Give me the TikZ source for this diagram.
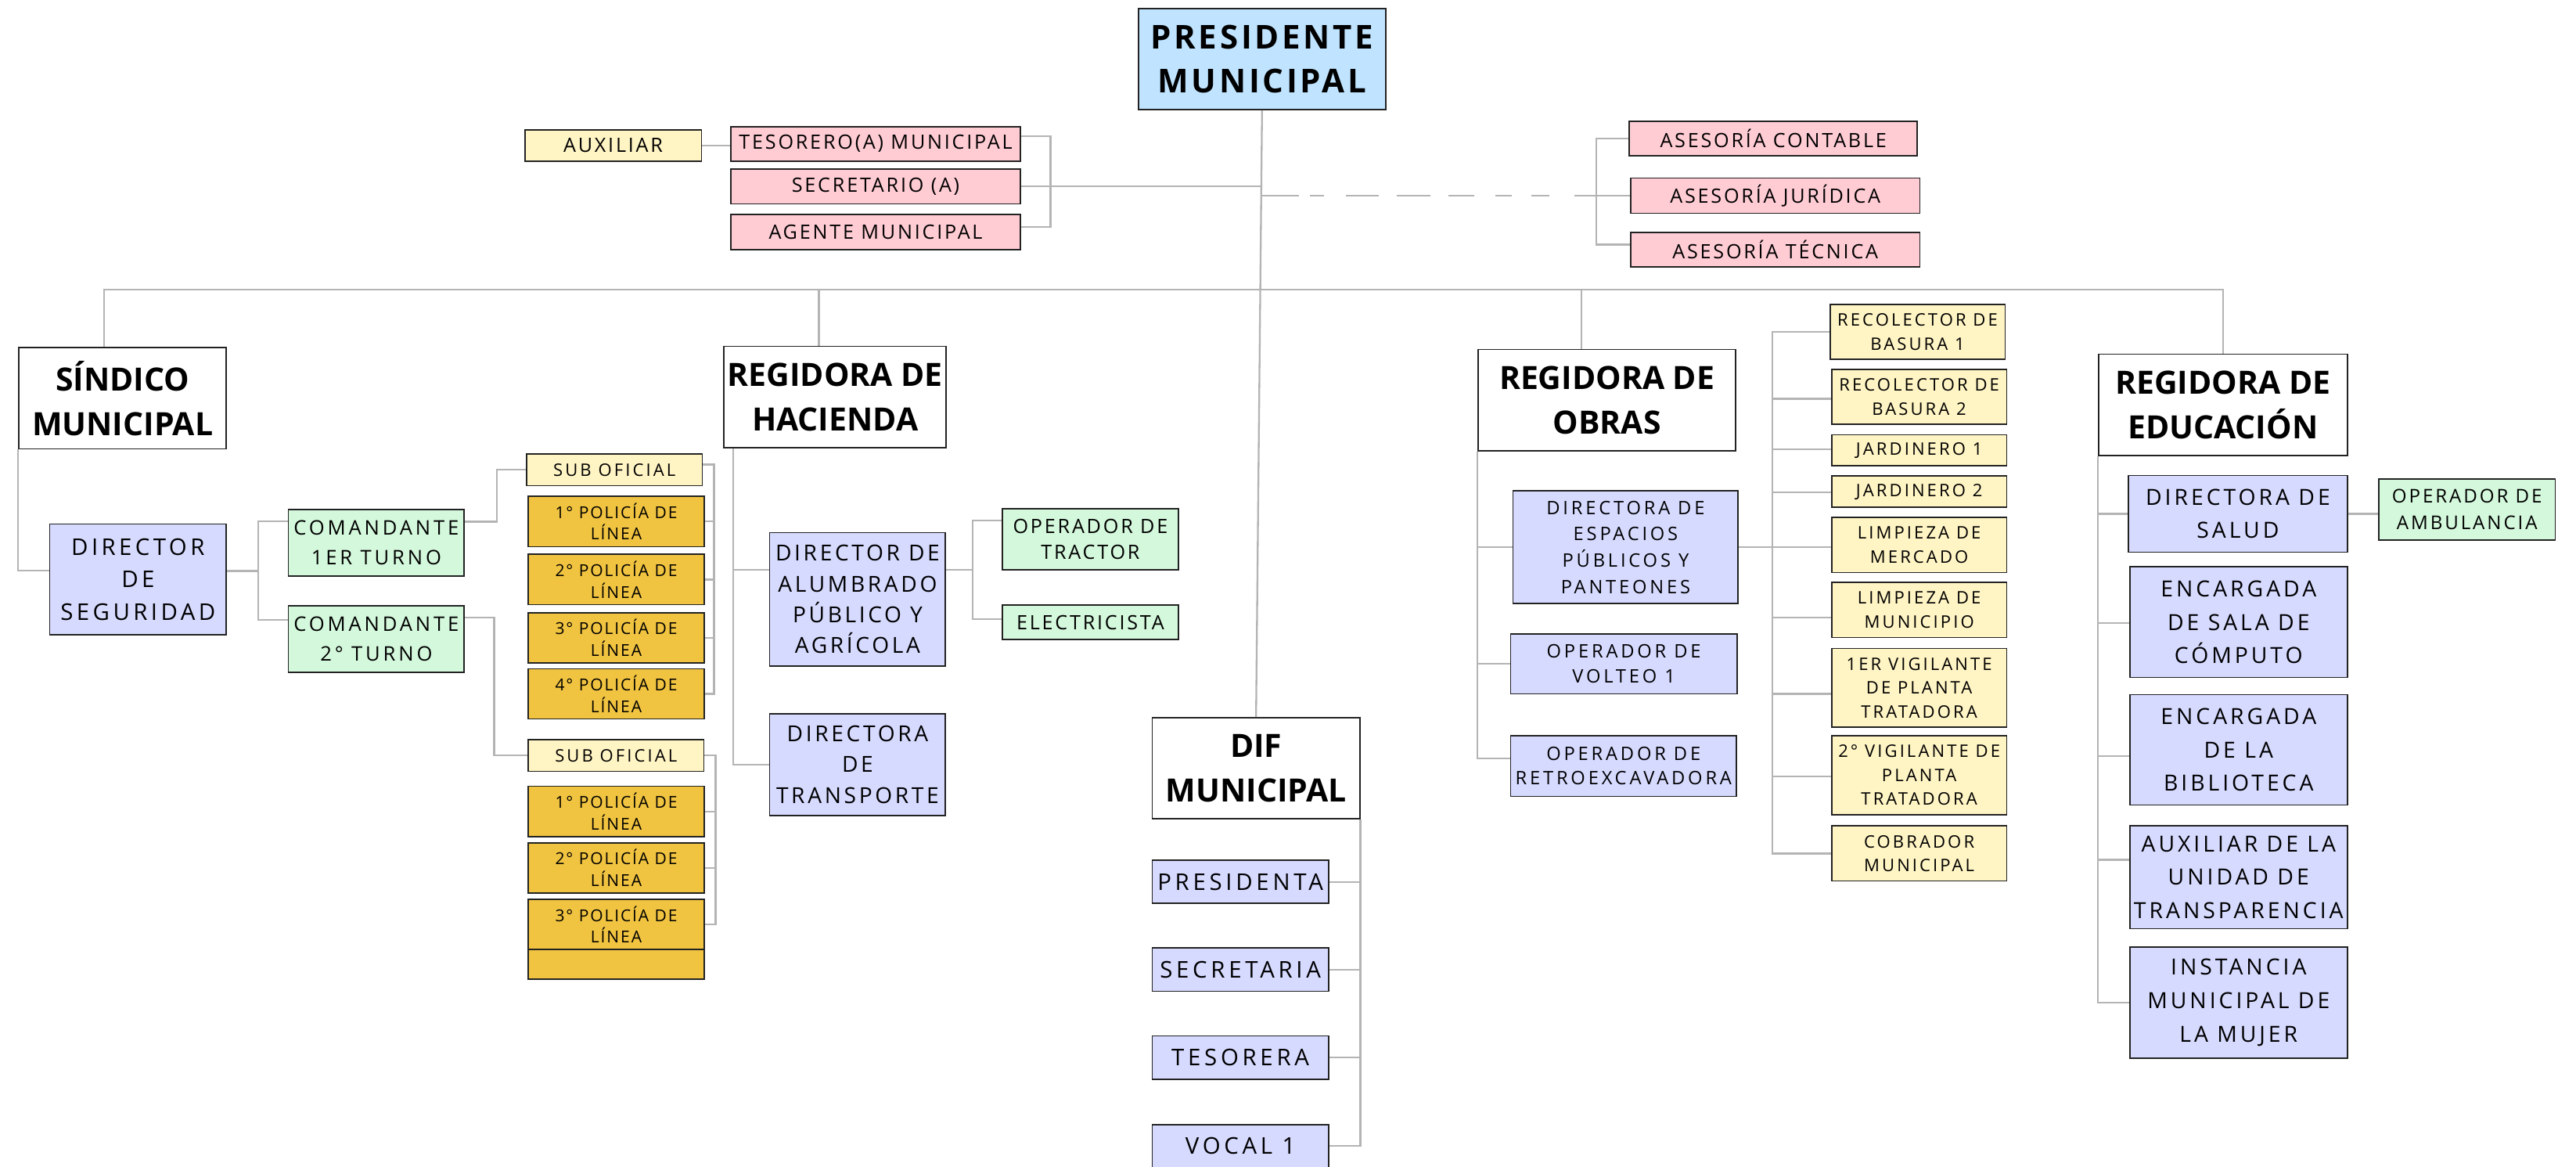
\documentclass[tikz,border=0pt]{standalone}
\usepackage{fontspec}
\usetikzlibrary{calc}
\setmainfont{Open Sans}
\newfontfamily\titlefont{Open Sans}
\definecolor{pblue}{HTML}{C0E4FF}
\definecolor{ppink}{HTML}{FFCCD4}
\definecolor{pyel}{HTML}{FFF4C4}
\definecolor{plav}{HTML}{D6DAFF}
\definecolor{pgreen}{HTML}{D4F8DC}
\definecolor{pgold}{HTML}{F0C340}
\definecolor{lncol}{HTML}{B4B4B4}
\definecolor{bdr}{HTML}{222222}
\newcommand\ttl{\titlefont\bfseries\fontsize{19.5}{27}\selectfont}
\newcommand\fsz[3]{\fontsize{#1}{#2}\selectfont\addfontfeatures{LetterSpace=#3}}
\tikzset{
  box/.style={draw=bdr, line width=0.8pt, align=center, inner sep=0pt},
  tbox/.style={box, fill=white, font=\ttl},
  pinkbox/.style={box, fill=ppink, font={\fsz{12}{14}{11}}},
  segbox/.style={box, fill=plav, font={\fsz{14}{19.8}{15}}},
  cmdbox/.style={box, fill=pgreen, font={\fsz{12.2}{17.8}{15}}},
  subbox/.style={box, fill=pyel, font={\fsz{10.5}{13}{14}}},
  polbox/.style={box, fill=pgold, font={\fsz{10}{13.2}{9}}},
  alumbox/.style={box, fill=plav, font={\fsz{13.4}{18.7}{13}}},
  grnbox/.style={box, fill=pgreen, font={\fsz{12}{16}{11}}},
  difbox/.style={box, fill=plav, font={\fsz{14}{18}{16}}},
  obrbox/.style={box, fill=plav, font={\fsz{11.3}{16}{16}}},
  yelbox/.style={box, fill=pyel, font={\fsz{10.5}{14.5}{14}}},
  edubox/.style={box, fill=plav, font={\fsz{13.5}{20.3}{14}}},
  ambbox/.style={box, fill=pgreen, font={\fsz{11.5}{16.1}{12}}},
  conn/.style={draw=lncol, line width=1.1pt},
}
\begin{document}
\begin{tikzpicture}[x=1pt,y=-1pt]
\useasboundingbox[fill=white] (0,0) rectangle (1568,709.7);

% ---------- top ----------
\node[tbox, fill=pblue, minimum width=150.5, minimum height=61.5, font={\titlefont\bfseries\fontsize{20}{27}\selectfont\addfontfeatures{LetterSpace=9}}] (pres) at (768.2,36) {PRESIDENTE\\MUNICIPAL};
\node[subbox, font={\fsz{12}{14}{11}}, minimum width=107.5, minimum height=19] (aux) at (373.2,88.5) {AUXILIAR};
\node[pinkbox, minimum width=176, minimum height=21] (tes) at (533,87.5) {TESORERO(A) MUNICIPAL};
\node[pinkbox, minimum width=176, minimum height=21] (sec) at (533,113.5) {SECRETARIO (A)};
\node[pinkbox, minimum width=176, minimum height=21.4] (age) at (533,141.3) {AGENTE MUNICIPAL};
\node[pinkbox, minimum width=175.3, minimum height=21] (asc) at (1079.4,84.3) {ASESORÍA CONTABLE};
\node[pinkbox, minimum width=176, minimum height=21.5] (asj) at (1080.6,119.1) {ASESORÍA JURÍDICA};
\node[pinkbox, minimum width=176, minimum height=21] (ast) at (1080.6,151.9) {ASESORÍA TÉCNICA};

% ---------- heads ----------
\node[tbox, minimum width=126.2, minimum height=61.6] (sind) at (74.6,242.4) {SÍNDICO\\MUNICIPAL};
\node[tbox, minimum width=135.4, minimum height=61.7] (hac) at (508.3,241.65) {REGIDORA DE\\HACIENDA};
\node[tbox, minimum width=156.7, minimum height=61.7] (obr) at (978.15,243.45) {REGIDORA DE\\OBRAS};
\node[tbox, minimum width=151.5, minimum height=61.7] (edu) at (1353.05,246.35) {REGIDORA DE\\EDUCACIÓN};
\node[tbox, minimum width=126.3, minimum height=61.4] (dif) at (764.55,467.5) {DIF\\MUNICIPAL};

% ---------- sindico ----------
\node[segbox, minimum width=107.4, minimum height=67.5] (dseg) at (84,352.6) {DIRECTOR\\DE\\SEGURIDAD};
\node[cmdbox, minimum width=107.1, minimum height=40.6] (cmd1) at (229.05,330.3) {COMANDANTE\\1ER TURNO};
\node[cmdbox, minimum width=107.1, minimum height=40.3] (cmd2) at (229.05,388.85) {COMANDANTE\\2° TURNO};
\node[subbox, minimum width=107.1, minimum height=19.2] (sub1) at (374,285.9) {SUB OFICIAL};
\node[polbox, minimum width=107.2, minimum height=30.8] (p11) at (375.1,317.3) {1° POLICÍA DE\\LÍNEA};
\node[polbox, minimum width=107.2, minimum height=30.7] (p12) at (375.1,352.65) {2° POLICÍA DE\\LÍNEA};
\node[polbox, minimum width=107.2, minimum height=30.7] (p13) at (375.1,388.15) {3° POLICÍA DE\\LÍNEA};
\node[polbox, minimum width=107.2, minimum height=30.5] (p14) at (375.1,422.25) {4° POLICÍA DE\\LÍNEA};
\node[subbox, minimum width=107, minimum height=19.4] (sub2) at (375,459.7) {SUB OFICIAL};
\node[polbox, minimum width=107.2, minimum height=30.7] (p21) at (375.1,493.85) {1° POLICÍA DE\\LÍNEA};
\node[polbox, minimum width=107.2, minimum height=30.5] (p22) at (375.1,528.25) {2° POLICÍA DE\\LÍNEA};
\node[polbox, minimum width=107.2, minimum height=30.4] (p23) at (375.1,562.6) {3° POLICÍA DE\\LÍNEA};
\node[polbox, minimum width=107.2, minimum height=17.9] (pemp) at (375.1,586.75) {};

% ---------- hacienda ----------
\node[alumbox, minimum width=107, minimum height=81.2] (alum) at (522,364.7) {DIRECTOR DE\\ALUMBRADO\\PÚBLICO Y\\AGRÍCOLA};
\node[alumbox, minimum width=107, minimum height=62] (trans) at (522,465.3) {DIRECTORA\\DE\\TRANSPORTE};
\node[grnbox, minimum width=107.2, minimum height=37.4] (trac) at (663.7,328.2) {OPERADOR DE\\TRACTOR};
\node[grnbox, minimum width=107.2, minimum height=21] (elec) at (663.7,378.7) {ELECTRICISTA};

% ---------- dif ----------
\node[difbox, minimum width=107.2, minimum height=26.3] (pta) at (755,536.65) {PRESIDENTA};
\node[difbox, minimum width=107.2, minimum height=26.4] (sria) at (755,590) {SECRETARIA};
\node[difbox, minimum width=107.2, minimum height=26.3] (tsra) at (755,643.55) {TESORERA};
\node[difbox, minimum width=107.2, minimum height=26.3] (voc) at (755,697.45) {VOCAL 1};

% ---------- obras ----------
\node[obrbox, minimum width=137, minimum height=68.6] (esp) at (989.5,333) {DIRECTORA DE\\ESPACIOS\\PÚBLICOS Y\\PANTEONES};
\node[obrbox, minimum width=137.8, minimum height=36.4, font={\fsz{11.3}{15}{16}}] (vol) at (988.4,404) {OPERADOR DE\\VOLTEO 1};
\node[obrbox, minimum width=137.5, minimum height=36.9, font={\fsz{11.3}{15}{16}}] (ret) at (988.25,466.15) {OPERADOR DE\\RETROEXCAVADORA};
\node[yelbox, minimum width=106.5, minimum height=33.4] (rec1) at (1167.2,201.9) {RECOLECTOR DE\\BASURA 1};
\node[yelbox, minimum width=106.5, minimum height=33.4] (rec2) at (1168.2,241.6) {RECOLECTOR DE\\BASURA 2};
\node[yelbox, minimum width=106.5, minimum height=18.9] (jar1) at (1168.2,274.05) {JARDINERO 1};
\node[yelbox, minimum width=106.5, minimum height=19] (jar2) at (1168.2,299.2) {JARDINERO 2};
\node[yelbox, minimum width=106.5, minimum height=33.5] (lmer) at (1168.2,331.65) {LIMPIEZA DE\\MERCADO};
\node[yelbox, minimum width=106.5, minimum height=33.5] (lmun) at (1168.2,371.15) {LIMPIEZA DE\\MUNICIPIO};
\node[yelbox, minimum width=106.5, minimum height=48] (vig1) at (1168.2,418.6) {1ER VIGILANTE\\DE PLANTA\\TRATADORA};
\node[yelbox, minimum width=106.5, minimum height=48] (vig2) at (1168.2,471.7) {2° VIGILANTE DE\\PLANTA\\TRATADORA};
\node[yelbox, minimum width=106.5, minimum height=33.5] (cob) at (1168.2,519.35) {COBRADOR\\MUNICIPAL};

% ---------- educacion ----------
\node[edubox, minimum width=133.2, minimum height=46.8] (sal) at (1362.2,312.7) {DIRECTORA DE\\SALUD};
\node[edubox, minimum width=132.4, minimum height=67.4] (sala) at (1362.6,378.6) {ENCARGADA\\DE SALA DE\\CÓMPUTO};
\node[edubox, minimum width=132.4, minimum height=67.1] (bib) at (1362.6,456.25) {ENCARGADA\\DE LA\\BIBLIOTECA};
\node[edubox, minimum width=132.4, minimum height=62.5] (trp) at (1362.6,533.85) {AUXILIAR DE LA\\UNIDAD DE\\TRANSPARENCIA};
\node[edubox, minimum width=132.4, minimum height=67.5] (muj) at (1362.6,610.05) {INSTANCIA\\MUNICIPAL DE\\LA MUJER};
\node[ambbox, minimum width=107.3, minimum height=37] (amb) at (1501.65,310) {OPERADOR DE\\AMBULANCIA};

% ================= connectors =================
% president
\draw[conn] (pres.south) -- (dif.north);
\coordinate (busy) at ($(pres.south)+(0,109)$);
\coordinate (d1) at ($(sind.north)+(-11.1,0)$);
\coordinate (d2) at ($(hac.north)+(-9.8,0)$);
\coordinate (d3) at ($(obr.north)+(-15.45,0)$);
\coordinate (d4) at (edu.north);
\draw[conn] (d1) -- (d1 |- busy) -- (d4 |- busy) -- (d4);
\draw[conn] (d2) -- (d2 |- busy);
\draw[conn] (d3) -- (d3 |- busy);

% top left group
\draw[conn] (aux.east) -- (aux.east -| tes.west);
\coordinate (tb) at ($(tes.east)+(18,0)$);
\draw[conn] ($(tes.east)+(0,-4.5)$) -- ($(tb |- tes.east)+(0,-4.5)$) -- ($(tb |- age.east)+(0,-3.3)$) -- ($(age.east)+(0,-3.3)$);
\draw[conn] (sec.east) -- (pres.south |- sec.east);

% asesorias
\coordinate (ab) at ($(asc.west)+(-19.7,0)$);
\draw[conn] (asc.west) -- (ab) -- ($(ab |- ast.west)+(0,-3)$) -- ($(ast.west)+(0,-3)$);
\draw[conn] (ab |- asj.west) -- (asj.west);
\draw[conn, dash pattern=on 22.6pt off 6.5pt on 8.6pt off 13.5pt on 19.8pt off 10.8pt on 20.6pt off 10.8pt on 15.9pt off 12.7pt on 10.2pt off 11.9pt on 11.1pt off 15.2pt on 60pt off 0pt] (pres.south |- asj.west) -- (ab |- asj.west);

% sindico
\draw[conn] (sind.south west) -- ($(sind.south west |- dseg.west)+(0,-5.4)$) -- ($(dseg.west)+(0,-5.4)$);
\coordinate (sb) at ($(dseg.east)+(19,0)$);
\draw[conn] ($(dseg.east)+(0,-5.1)$) -- ($(sb |- dseg.east)+(0,-5.1)$);
\draw[conn] ($(cmd1.west)+(0,-13.1)$) -- ($(sb |- cmd1.west)+(0,-13.1)$) -- ($(sb |- cmd2.west)+(0,-11.75)$) -- ($(cmd2.west)+(0,-11.75)$);
\coordinate (c1b) at ($(cmd1.east)+(19.4,0)$);
\draw[conn] ($(cmd1.east)+(0,-12.8)$) -- ($(c1b |- cmd1.east)+(0,-12.8)$) -- (c1b |- sub1.west) -- (sub1.west);
\coordinate (c2b) at ($(cmd2.east)+(17.8,0)$);
\draw[conn] ($(cmd2.east)+(0,-13)$) -- ($(c2b |- cmd2.east)+(0,-13)$) -- (c2b |- sub2.west) -- (sub2.west);
\coordinate (pb1) at ($(p11.east)+(5.5,0)$);
\draw[conn] ($(sub1.east)+(0,-3.2)$) -- ($(pb1 |- sub1.east)+(0,-3.2)$) -- (pb1 |- p14.east) -- (p14.east);
\foreach \n in {p11,p12,p13} \draw[conn] (\n.east) -- (pb1 |- \n.east);
\coordinate (pb2) at ($(p21.east)+(6.5,0)$);
\draw[conn] (sub2.east) -- (pb2 |- sub2.east) -- (pb2 |- p23.east) -- (p23.east);
\foreach \n in {p21,p22} \draw[conn] (\n.east) -- (pb2 |- \n.east);

% hacienda
\coordinate (hb) at ($(hac.south west)+(6,0)$);
\draw[conn] (hb) -- (hb |- trans.west) -- (trans.west);
\draw[conn] ($(hb |- alum.west)+(0,-18)$) -- ($(alum.west)+(0,-18)$);
\coordinate (ab2) at ($(alum.east)+(16.1,0)$);
\draw[conn] ($(alum.east)+(0,-18)$) -- ($(ab2 |- alum.east)+(0,-18)$);
\draw[conn] ($(trac.west)+(0,-11.4)$) -- ($(ab2 |- trac.west)+(0,-11.4)$) -- ($(ab2 |- elec.west)+(0,-2)$) -- ($(elec.west)+(0,-2)$);

% dif
\draw[conn] (dif.south east) -- (dif.south east |- voc.east) -- (voc.east);
\foreach \n in {pta,sria,tsra} \draw[conn] (\n.east) -- (dif.south east |- \n.east);

% obras
\draw[conn] (obr.south west) -- ($(obr.south west |- ret.west)+(0,-4.5)$) -- ($(ret.west)+(0,-4.5)$);
\draw[conn] (obr.south west |- esp.west) -- (esp.west);
\draw[conn] (obr.south west |- vol.west) -- (vol.west);
\coordinate (ob) at ($(esp.east)+(20.3,0)$);
\draw[conn] (esp.east) -- (ob |- esp.east);
\draw[conn] (rec1.west) -- (ob |- rec1.west) -- (ob |- cob.west) -- (cob.west);
\foreach \n/\d in {rec2/1, jar1/-0.5, jar2/0.3, lmer/1.3, lmun/4.5, vig1/3.6, vig2/0.7}
  \draw[conn] ($(\n.west)+(0,\d)$) -- ($(ob |- \n.west)+(0,\d)$);

% educacion
\draw[conn] (edu.south west) -- (edu.south west |- muj.west) -- (muj.west);
\foreach \n/\d in {sal/0, sala/0.4, bib/3.75, trp/-10.6}
  \draw[conn] ($(edu.south west |- \n.west)+(0,\d)$) -- ($(\n.west)+(0,\d)$);
\draw[conn] (sal.east) -- (amb.west |- sal.east);
\end{tikzpicture}
\end{document}
